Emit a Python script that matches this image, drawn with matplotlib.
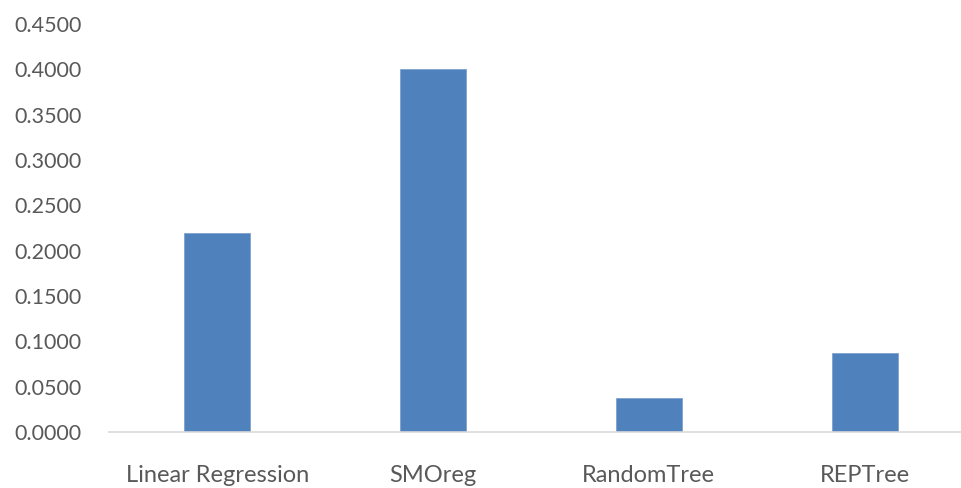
import matplotlib.pyplot as plt
from matplotlib.ticker import FormatStrFormatter

# values
models = ['Linear Regression', 'SMOreg', 'RandomTree', 'REPTree']
scores = [0.219, 0.400, 0.038, 0.0875]
yticks = [0.0, 0.05, 0.10, 0.15, 0.20, 0.25, 0.30, 0.35, 0.40, 0.45]

plt.rcParams['font.family'] = ['Lato', 'DejaVu Sans']
text_col = '#595959'

fig = plt.figure(figsize=(9.62, 4.88), dpi=100)
ax = fig.add_axes([0.1138, 0.1148, 0.897, 0.8362])

ax.bar(range(len(models)), scores, width=0.306, color='#4f81bd',
       edgecolor='#7ea3d1', linewidth=0.6, zorder=2)

ax.set_xlim(-0.5, len(models) - 0.5)
ax.set_ylim(0, 0.45)
ax.set_yticks(yticks)
ax.yaxis.set_major_formatter(FormatStrFormatter('%.4f'))
ax.set_xticks(range(len(models)))
ax.set_xticklabels(models)

for s in ['top', 'right', 'left']:
    ax.spines[s].set_visible(False)
ax.spines['bottom'].set_color('#d9d9d9')
ax.spines['bottom'].set_linewidth(1.2)

ax.tick_params(axis='y', length=0, pad=20, labelsize=15.5, labelcolor=text_col)
ax.tick_params(axis='x', length=0, pad=24, labelsize=17, labelcolor=text_col)

fig.savefig('out.png', dpi=100)
